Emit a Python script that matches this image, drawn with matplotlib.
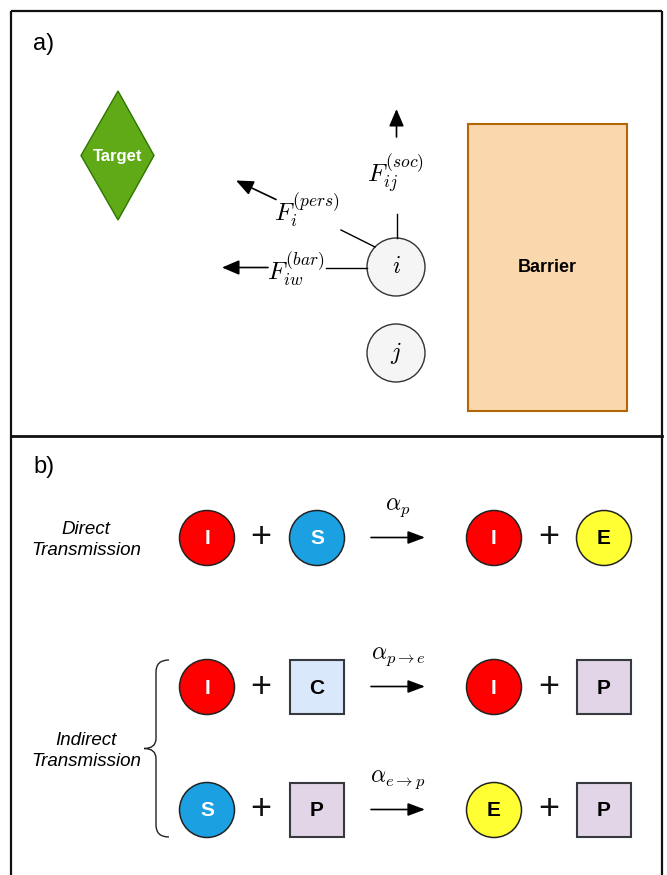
import matplotlib
matplotlib.use("Agg")
import matplotlib.pyplot as plt
from matplotlib.patches import Circle, Rectangle, Polygon, PathPatch
from matplotlib.path import Path

plt.rcParams['mathtext.fontset'] = 'cm'
plt.rcParams['font.family'] = ['Liberation Sans', 'DejaVu Sans']

# ---------------- data ----------------
panel_labels = ["a)", "b)"]
force_labels = [r"$F_{ij}^{(soc)}$", r"$F_i^{(pers)}$", r"$F_{iw}^{(bar)}$"]
agent_labels = [r"$i$", r"$j$"]
target_label = "Target"
barrier_label = "Barrier"

group_labels = ["Direct\nTransmission", "Indirect\nTransmission"]
rate_labels = [r"$\alpha_p$", r"$\alpha_{p\to e}$", r"$\alpha_{e\to p}$"]
# each reaction: (left species, right species)
reaction_lhs = [["I", "S"], ["I", "C"], ["S", "P"]]
reaction_rhs = [["I", "E"], ["I", "P"], ["E", "P"]]
species_shape = {"I": "circle", "S": "circle", "E": "circle", "C": "square", "P": "square"}
species_fill = {"I": "#ff0000", "S": "#1ba1e2", "E": "#ffff33", "C": "#dae8fc", "P": "#e1d5e7"}
species_text = {"I": "white", "S": "white", "E": "black", "C": "black", "P": "black"}

# ---------------- figure ----------------
W, H = 667, 875
fig = plt.figure(figsize=(W / 100, H / 100), dpi=100)
ax = fig.add_axes([0, 0, 1, 1])
ax.set_xlim(0, W)
ax.set_ylim(H, 0)
ax.axis("off")

# frames
frame_kw = dict(color="#111111", lw=1.6, solid_capstyle="butt")
ax.plot([10.5, 10.5], [10.5, H], **frame_kw)
ax.plot([662, 662], [10.5, H], **frame_kw)
ax.plot([10.5, 662], [10.5, 10.5], **frame_kw)
ax.plot([10.5, 662], [436, 436], color="#111111", lw=2.0)

ax.text(33, 44, panel_labels[0], fontsize=17, ha="left", va="center")
ax.text(33, 467, panel_labels[1], fontsize=17, ha="left", va="center")

# ---------------- panel a ----------------
diamond = Polygon([(118, 91), (154, 155.5), (118, 220), (81, 155.5)], closed=True,
                  facecolor="#60a917", edgecolor="#2d7600", lw=1.0)
ax.add_patch(diamond)
ax.text(118, 156, target_label, color="white", fontsize=12, fontweight="bold",
        ha="center", va="center")

barrier = Rectangle((468, 124), 159, 287, facecolor="#fad7ac", edgecolor="#b46504", lw=1.5)
ax.add_patch(barrier)
ax.text(547.5, 268, barrier_label, fontsize=13, fontweight="bold", ha="center", va="center")

agent_xy = [(396, 267), (396, 353)]
for (cx, cy), lab in zip(agent_xy, agent_labels):
    ax.add_patch(Circle((cx, cy), 29, facecolor="#f5f5f5", edgecolor="#333333", lw=1.0))
    ax.text(cx, cy, lab, fontsize=17, ha="center", va="center")

line_kw = dict(color="black", lw=1.0)
arrow_kw = dict(arrowstyle="-|>,head_length=0.7,head_width=0.3", color="black", lw=1.2,
                shrinkA=0, shrinkB=0, mutation_scale=15)
# social force
ax.plot([396.5, 396.5], [238, 214], **line_kw)
ax.text(396, 174, force_labels[0], fontsize=18, ha="center", va="center")
ax.annotate("", xy=(396.5, 109), xytext=(396.5, 137), arrowprops=arrow_kw)
# personal force
ax.plot([375, 341], [247, 230], **line_kw)
ax.text(307, 211, force_labels[1], fontsize=18, ha="center", va="center")
ax.annotate("", xy=(236, 180.5), xytext=(276, 199.5), arrowprops=arrow_kw)
# barrier force
ax.plot([367, 326], [267.5, 267.5], **line_kw)
ax.text(296, 270, force_labels[2], fontsize=18, ha="center", va="center")
ax.annotate("", xy=(222, 267.5), xytext=(268, 267.5), arrowprops=arrow_kw)

# ---------------- panel b ----------------
row_y = [538, 687, 810]
slot_x = [207, 317, 494, 604]
plus_x = [261, 549]
arrow_x = (371, 425)
R = 27.5
S = 54


def draw_species(sp, x, y):
    if species_shape[sp] == "circle":
        ax.add_patch(Circle((x, y), R, facecolor=species_fill[sp], edgecolor="#222222", lw=1.1))
    else:
        ax.add_patch(Rectangle((x - S / 2, y - S / 2), S, S, facecolor=species_fill[sp],
                               edgecolor="#36393d", lw=1.5))
    ax.text(x, y + 1, sp, color=species_text[sp], fontsize=15, fontweight="bold",
            ha="center", va="center")


for k, y in enumerate(row_y):
    species = reaction_lhs[k] + reaction_rhs[k]
    for sp, x in zip(species, slot_x):
        draw_species(sp, x, y)
    for px in plus_x:
        ax.text(px, y, "+", fontsize=26, ha="center", va="center", color="#111111")
    ax.annotate("", xy=(arrow_x[1], y - 0.5), xytext=(arrow_x[0], y - 0.5),
                arrowprops=dict(arrowstyle="-|>,head_length=0.8,head_width=0.3", color="black",
                                lw=1.2, shrinkA=0, shrinkB=0, mutation_scale=13))
    ax.text(398, y - 30, rate_labels[k], fontsize=17, ha="center", va="center")

ax.text(86, 540, group_labels[0], fontsize=13.5, style="italic", ha="center", va="center",
        linespacing=1.3)
ax.text(86, 751, group_labels[1], fontsize=13.5, style="italic", ha="center", va="center",
        linespacing=1.3)

# curly brace
x_end, x_mid, x_tip = 169, 156, 144
y_top, y_bot = row_y[1] - 27, row_y[2] + 27
y_c = (y_top + y_bot) / 2
verts = [
    (x_end, y_top), (x_mid, y_top), (x_mid, y_top + 12),
    (x_mid, y_c - 10), (x_mid, y_c), (x_tip, y_c),
    (x_mid, y_c), (x_mid, y_c + 10),
    (x_mid, y_bot - 12), (x_mid, y_bot), (x_end, y_bot),
]
codes = [Path.MOVETO, Path.CURVE3, Path.CURVE3,
         Path.LINETO, Path.CURVE3, Path.CURVE3,
         Path.CURVE3, Path.CURVE3,
         Path.LINETO, Path.CURVE3, Path.CURVE3]
ax.add_patch(PathPatch(Path(verts, codes), facecolor="none", edgecolor="#222222", lw=1.0))

fig.savefig("out.png", dpi=100)
